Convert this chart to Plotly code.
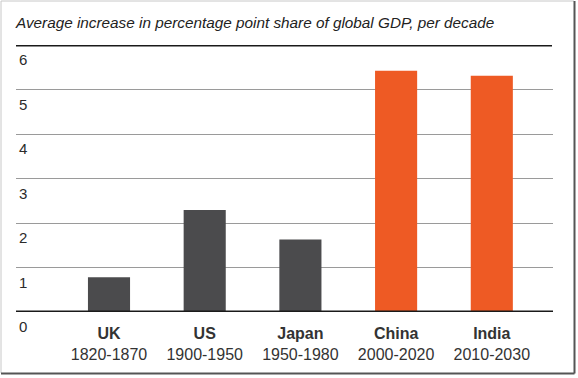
import plotly.graph_objects as go

# ---- data ----
countries = ["UK", "US", "Japan", "China", "India"]
periods = ["1820-1870", "1900-1950", "1950-1980", "2000-2020", "2010-2030"]
values = [0.78, 2.29, 1.63, 5.42, 5.31]
bar_colors = ["#4b4b4d", "#4b4b4d", "#4b4b4d", "#ee5a24", "#ee5a24"]
y_tick_values = [0, 1, 2, 3, 4, 5, 6]
y_tick_labels = ["0", "1", "2", "3", "4", "5", "6"]
title_text = "Average increase in percentage point share of global GDP, per decade"

W, H = 578, 378
ML, MR, MT, MB = 16, 25, 45, 66
PW, PH = W - ML - MR, H - MT - MB
spacing_px = 95.7
first_center_px = 109
x0 = -(first_center_px - ML) / spacing_px
x1 = x0 + PW / spacing_px

def px_x(p):
    return (p - ML) / PW

def px_y(p):
    return (H - MB - p) / PH

fig = go.Figure()
fig.add_trace(go.Bar(
    x=list(range(len(countries))), y=values,
    marker=dict(color=bar_colors, line=dict(width=0)),
    width=0.44, hoverinfo="skip",
))

ticktext = [f"<b>{c}</b><br>{p}" for c, p in zip(countries, periods)]

fig.update_layout(
    width=W, height=H,
    margin=dict(l=ML, r=MR, t=MT, b=MB),
    paper_bgcolor="white", plot_bgcolor="white",
    showlegend=False,
    font=dict(family="Liberation Sans, Arial, sans-serif", color="#2b2b2b"),
    title=dict(
        text=f"<i>{title_text}</i>",
        xref="container", yref="container",
        x=16 / W, xanchor="left",
        y=1 - 23 / H, yanchor="middle",
        font=dict(size=15.3, color="#222222"),
    ),
    xaxis=dict(
        range=[x0, x1],
        tickmode="array", tickvals=list(range(len(countries))), ticktext=ticktext,
        showgrid=False, zeroline=False, showline=False, ticks="",
        tickfont=dict(size=16, color="#333333"),
        ticklabelstandoff=10,
    ),
    yaxis=dict(
        range=[0, 6], tickvals=y_tick_values, showticklabels=False,
        showgrid=True, gridcolor="#9a9a9a", gridwidth=1,
        zeroline=False, showline=False, ticks="",
    ),
)

# y tick labels below gridlines
for v, t in zip(y_tick_values, y_tick_labels):
    fig.add_annotation(
        x=px_x(17), xref="paper", xanchor="left",
        y=v, yref="y", yanchor="top", yshift=-4,
        text=t, showarrow=False,
        font=dict(size=15, color="#2b2b2b"),
    )

# top rule and baseline
fig.add_shape(type="line", xref="paper", yref="y", x0=0, x1=px_x(552), y0=6, y1=6,
              line=dict(color="#1a1a1a", width=3))
fig.add_shape(type="line", xref="paper", yref="y", x0=0, x1=1, y0=0, y1=0,
              line=dict(color="#1a1a1a", width=3))

# frame
fig.add_shape(type="line", xref="paper", yref="paper",
              x0=px_x(1), x1=px_x(574), y0=px_y(1), y1=px_y(1),
              line=dict(color="#c8c8c8", width=1))
fig.add_shape(type="line", xref="paper", yref="paper",
              x0=px_x(1), x1=px_x(1), y0=px_y(1), y1=px_y(373),
              line=dict(color="#c8c8c8", width=1))
fig.add_shape(type="line", xref="paper", yref="paper",
              x0=px_x(574.5), x1=px_x(574.5), y0=px_y(1), y1=px_y(373.5),
              line=dict(color="#555555", width=2))
fig.add_shape(type="line", xref="paper", yref="paper",
              x0=px_x(1), x1=px_x(574.5), y0=px_y(373.5), y1=px_y(373.5),
              line=dict(color="#555555", width=2))

fig.write_html("out.html", config={"displayModeBar": False},
               post_script="document.body.style.margin='0px';")
